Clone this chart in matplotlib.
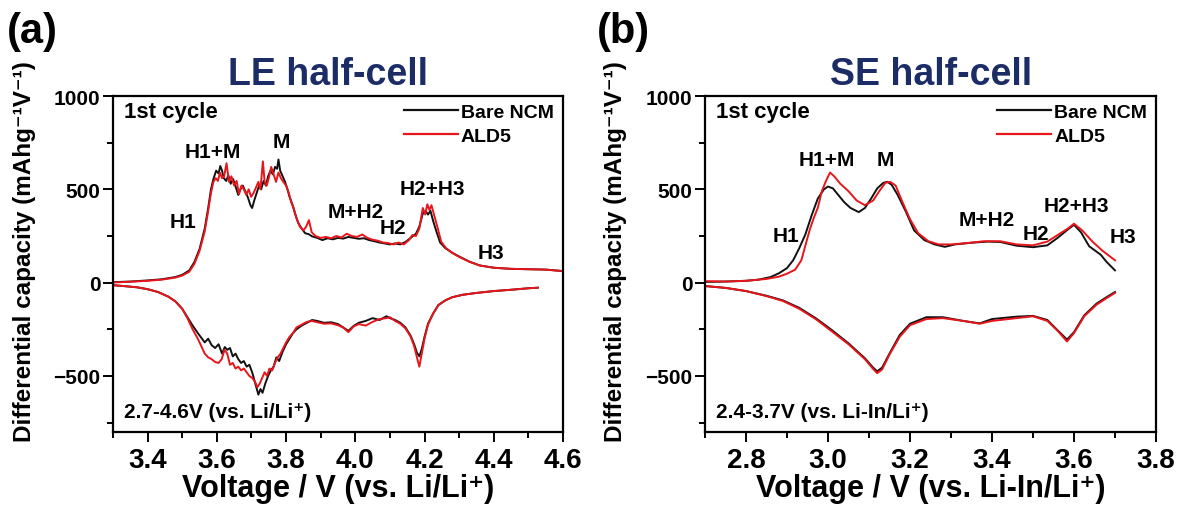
import matplotlib
matplotlib.use("Agg")
import matplotlib.pyplot as plt
from matplotlib.ticker import MultipleLocator

plt.rcParams["font.family"] = ["Liberation Sans", "DejaVu Sans"]
plt.rcParams["font.weight"] = "bold"

BLACK = "#111111"
RED = "#E8151B"
NAVY = "#1B2C66"

# ---- LE half-cell, 1st cycle (vs. Li/Li+) ----
le_chg_v_bare = [3.29, 3.35, 3.40, 3.44, 3.48, 3.50, 3.52, 3.535, 3.55, 3.565,
                 3.575, 3.583, 3.59, 3.598, 3.605, 3.61, 3.615, 3.62, 3.627, 3.633,
                 3.64, 3.647, 3.655, 3.662, 3.668, 3.675, 3.682, 3.69, 3.697, 3.702,
                 3.708, 3.715, 3.722, 3.728, 3.735, 3.742, 3.748, 3.755, 3.762, 3.768,
                 3.774, 3.778, 3.783, 3.79, 3.797, 3.804, 3.81, 3.818, 3.826, 3.835,
                 3.845, 3.855, 3.865, 3.875, 3.89, 3.905, 3.92, 3.935, 3.95, 3.965,
                 3.98, 3.995, 4.01, 4.025, 4.04, 4.055, 4.07, 4.085, 4.1, 4.115,
                 4.13, 4.145, 4.16, 4.175, 4.185, 4.195, 4.203, 4.21, 4.217, 4.225,
                 4.235, 4.245, 4.26, 4.28, 4.30, 4.33, 4.36, 4.40, 4.45, 4.50,
                 4.55, 4.60]
le_chg_bare = [2, 6, 12, 18, 30, 42, 65, 110, 180, 290,
               400, 500, 555, 600, 585, 625, 600, 560, 545, 575,
               530, 555, 510, 470, 500, 520, 490, 455, 415, 400,
               440, 480, 520, 500, 545, 520, 570, 600, 580, 620,
               610, 660, 600, 570, 540, 500, 460, 420, 370, 320,
               290, 265, 260, 248, 240, 228, 238, 232, 240, 236,
               245, 240, 235, 238, 228, 222, 215, 210, 205, 210,
               205, 218, 240, 262, 300, 370, 385, 365, 385, 330,
               270, 215, 185, 160, 140, 112, 92, 80, 74, 72,
               70, 62]

le_chg_v_ald = [3.29, 3.35, 3.40, 3.44, 3.48, 3.50, 3.52, 3.535, 3.55, 3.565,
                3.575, 3.583, 3.59, 3.597, 3.603, 3.609, 3.615, 3.621, 3.628, 3.635,
                3.642, 3.65, 3.657, 3.664, 3.671, 3.678, 3.685, 3.692, 3.699, 3.706,
                3.713, 3.72, 3.726, 3.733, 3.738, 3.744, 3.75, 3.757, 3.764, 3.771,
                3.778, 3.785, 3.792, 3.8, 3.808, 3.815, 3.822, 3.83, 3.84, 3.85,
                3.858, 3.866, 3.874, 3.885, 3.9, 3.915, 3.93, 3.945, 3.96, 3.975,
                3.99, 4.005, 4.02, 4.035, 4.05, 4.065, 4.08, 4.095, 4.11, 4.125,
                4.14, 4.155, 4.165, 4.175, 4.185, 4.195, 4.202, 4.208, 4.214, 4.22,
                4.228, 4.237, 4.248, 4.262, 4.28, 4.30, 4.33, 4.36, 4.40, 4.45,
                4.50, 4.55, 4.60]
le_chg_ald = [0, 5, 10, 16, 27, 38, 58, 100, 170, 275,
              385, 480, 540, 560, 545, 590, 560, 570, 640, 540,
              570, 520, 545, 475, 520, 500, 470, 500, 460, 480,
              510, 540, 500, 650, 540, 520, 560, 620, 580, 540,
              590, 560, 540, 520, 480, 430, 400, 345, 300, 280,
              300, 335, 270, 250, 240, 245, 238, 250, 242, 262,
              250, 245, 258, 240, 230, 225, 215, 212, 205, 215,
              205, 228, 255, 250, 290, 400, 365, 420, 390, 415,
              360, 300, 220, 185, 160, 138, 112, 92, 80, 74,
              72, 70, 62]

le_dis_v_bare = [3.29, 3.33, 3.37, 3.40, 3.43, 3.46, 3.48, 3.50, 3.515, 3.53,
                 3.545, 3.555, 3.565, 3.575, 3.585, 3.595, 3.605, 3.615, 3.623, 3.63,
                 3.638, 3.646, 3.654, 3.662, 3.67, 3.678, 3.686, 3.694, 3.702, 3.708,
                 3.714, 3.72, 3.726, 3.732, 3.74, 3.748, 3.756, 3.764, 3.772, 3.78,
                 3.79, 3.8, 3.81, 3.82, 3.83, 3.845, 3.86, 3.875, 3.89, 3.91,
                 3.93, 3.95, 3.965, 3.98, 3.995, 4.01, 4.03, 4.05, 4.07, 4.09,
                 4.1, 4.115, 4.13, 4.145, 4.16, 4.17, 4.178, 4.185, 4.192, 4.2,
                 4.21, 4.225, 4.24, 4.26, 4.28, 4.31, 4.35, 4.40, 4.45, 4.50,
                 4.527]
le_dis_bare = [-12, -18, -25, -35, -50, -75, -100, -140, -185, -230,
               -270, -295, -320, -300, -335, -350, -330, -380, -345, -360,
               -350, -395, -380, -410, -430, -420, -450, -440, -480, -520,
               -560, -600, -570, -590, -540, -500, -470, -450, -400, -420,
               -370, -330, -300, -270, -250, -230, -215, -200, -205, -215,
               -212, -222, -240, -258, -232, -215, -205, -190, -200, -180,
               -190, -200, -215, -240, -285, -330, -375, -395, -355, -290,
               -220, -165, -120, -95, -78, -65, -55, -45, -38, -30,
               -27]

le_dis_v_ald = [3.29, 3.33, 3.37, 3.40, 3.43, 3.46, 3.48, 3.50, 3.515, 3.53,
                3.545, 3.555, 3.565, 3.575, 3.585, 3.595, 3.605, 3.614, 3.622, 3.63,
                3.638, 3.646, 3.654, 3.662, 3.67, 3.678, 3.686, 3.694, 3.702, 3.71,
                3.717, 3.724, 3.731, 3.738, 3.745, 3.752, 3.76, 3.768, 3.776, 3.784,
                3.792, 3.8, 3.81, 3.82, 3.83, 3.845, 3.86, 3.875, 3.89, 3.91,
                3.93, 3.95, 3.965, 3.98, 3.995, 4.01, 4.03, 4.05, 4.07, 4.09,
                4.1, 4.115, 4.13, 4.145, 4.16, 4.17, 4.178, 4.185, 4.192, 4.2,
                4.21, 4.225, 4.24, 4.26, 4.28, 4.31, 4.35, 4.40, 4.45, 4.50,
                4.527]
le_dis_ald = [-12, -18, -25, -35, -50, -75, -100, -140, -190, -250,
              -300, -340, -380, -400, -410, -425, -430, -410, -360, -380,
              -440, -430, -460, -450, -470, -460, -480, -500, -510, -530,
              -560, -540, -510, -480, -500, -460, -470, -430, -400, -380,
              -350, -320, -290, -270, -240, -225, -210, -205, -212, -220,
              -218, -228, -240, -265, -235, -222, -230, -210, -195, -190,
              -185, -205, -220, -245, -290, -340, -400, -450, -380, -300,
              -225, -165, -120, -95, -78, -65, -55, -45, -38, -30,
              -27]

# ---- SE half-cell, 1st cycle (vs. Li-In/Li+) ----
se_chg_v_bare = [2.70, 2.75, 2.80, 2.83, 2.86, 2.88, 2.90, 2.915, 2.93, 2.945,
                 2.96, 2.975, 2.99, 3.0, 3.012, 3.025, 3.04, 3.055, 3.075, 3.09,
                 3.105, 3.12, 3.135, 3.145, 3.155, 3.17, 3.19, 3.21, 3.235, 3.26,
                 3.285, 3.31, 3.35, 3.39, 3.42, 3.46, 3.50, 3.535, 3.56, 3.585,
                 3.60, 3.617, 3.637, 3.665, 3.68, 3.70]
se_chg_bare = [4, 6, 10, 16, 30, 50, 78, 120, 185, 260,
               360, 450, 500, 515, 505, 470, 430, 400, 378, 400,
               450, 505, 535, 540, 525, 470, 380, 280, 228, 205,
               192, 205, 214, 220, 218, 198, 190, 200, 240, 285,
               310, 270, 195, 150, 110, 66]

se_chg_v_ald = [2.70, 2.75, 2.80, 2.85, 2.88, 2.90, 2.92, 2.935, 2.945, 2.955,
                2.965, 2.975, 2.985, 2.995, 3.005, 3.015, 3.03, 3.05, 3.07, 3.09,
                3.11, 3.125, 3.14, 3.152, 3.165, 3.18, 3.2, 3.22, 3.245, 3.27,
                3.3, 3.34, 3.38, 3.42, 3.46, 3.50, 3.535, 3.56, 3.585, 3.60,
                3.62, 3.645, 3.67, 3.70]
se_chg_ald = [8, 6, 10, 20, 32, 48, 70, 120, 200, 280,
              345, 400, 490, 545, 590, 570, 530, 490, 440, 415,
              440, 490, 535, 540, 520, 440, 340, 265, 222, 205,
              205, 212, 222, 222, 205, 200, 220, 255, 290, 316,
              280, 220, 170, 120]

se_dis_v = [2.70, 2.75, 2.80, 2.85, 2.89, 2.93, 2.97, 3.01, 3.05, 3.09,
            3.11, 3.12, 3.132, 3.15, 3.175, 3.2, 3.24, 3.28, 3.33, 3.37,
            3.40, 3.46, 3.50, 3.535, 3.56, 3.583, 3.60, 3.625, 3.655, 3.68,
            3.70]
se_dis_bare = [-18, -28, -45, -70, -95, -135, -190, -255, -325, -405,
               -455, -475, -455, -380, -280, -220, -185, -185, -205, -218,
               -195, -182, -178, -200, -255, -305, -265, -175, -112, -77,
               -50]
se_dis_ald = [-18, -28, -45, -72, -98, -140, -195, -262, -330, -410,
              -462, -485, -465, -385, -290, -228, -195, -190, -205, -220,
              -205, -190, -180, -205, -258, -315, -270, -180, -118, -82,
              -55]

# phase labels: (text, voltage, dQ/dV)
le_phases = [("H1+M", 3.588, 705), ("M", 3.785, 754), ("H1", 3.502, 330),
             ("M+H2", 4.001, 379), ("H2", 4.108, 298), ("H2+H3", 4.223, 502),
             ("H3", 4.393, 159)]
se_phases = [("H1+M", 2.998, 662), ("M", 3.140, 662), ("H1", 2.898, 255),
             ("M+H2", 3.387, 341), ("H2", 3.507, 261), ("H2+H3", 3.605, 411),
             ("H3", 3.720, 245)]

fig = plt.figure(figsize=(11.79, 5.10), dpi=100)
ax_a = fig.add_axes([113 / 1179, 77 / 510, 450 / 1179, 336 / 510])
ax_b = fig.add_axes([705 / 1179, 77 / 510, 451 / 1179, 336 / 510])


def style_axes(ax, xlim, xlabel, window):
    ax.set_xlim(*xlim)
    ax.set_ylim(-800, 1000)
    ax.xaxis.set_major_locator(MultipleLocator(0.2))
    ax.xaxis.set_minor_locator(MultipleLocator(0.1))
    ax.yaxis.set_major_locator(MultipleLocator(500))
    ax.yaxis.set_minor_locator(MultipleLocator(250))
    ax.tick_params(which="both", direction="out", width=1.4, top=False, right=False)
    ax.tick_params(which="major", length=7)
    ax.tick_params(which="minor", length=4)
    ax.tick_params(axis="x", labelsize=20, pad=4)
    ax.tick_params(axis="y", labelsize=15, pad=2)
    for lbl in ax.get_xticklabels() + ax.get_yticklabels():
        lbl.set_fontweight("bold")
    for sp in ax.spines.values():
        sp.set_linewidth(1.6)
    ax.set_xlabel(xlabel, fontsize=22, fontweight="bold", labelpad=0)
    ax.set_ylabel("Differential capacity (mAhg⁻¹V⁻¹)",
                  fontsize=17.5, fontweight="bold")
    ax.yaxis.set_label_coords(-0.172, 0.54)
    ax.text(0.024, 0.955, "1st cycle", transform=ax.transAxes,
            fontsize=16, fontweight="bold", va="center", ha="left")
    ax.text(0.024, 0.062, window, transform=ax.transAxes,
            fontsize=15, fontweight="bold", va="center", ha="left")
    leg = ax.legend(loc="upper right", bbox_to_anchor=(1.01, 1.02), frameon=False,
                    prop={"size": 14, "weight": "bold"}, handlelength=2.8,
                    handletextpad=0.15, labelspacing=0.35, borderaxespad=0.3)
    for line in leg.get_lines():
        line.set_linewidth(1.6)


for ax, data, phases in [
    (ax_a, [(le_chg_v_bare, le_chg_bare, le_chg_v_ald, le_chg_ald),
            (le_dis_v_bare, le_dis_bare, le_dis_v_ald, le_dis_ald)], le_phases),
    (ax_b, [(se_chg_v_bare, se_chg_bare, se_chg_v_ald, se_chg_ald),
            (se_dis_v, se_dis_bare, se_dis_v, se_dis_ald)], se_phases),
]:
    for i, (vb, qb, va, qa) in enumerate(data):
        ax.plot(vb, qb, color=BLACK, lw=1.4, label="Bare NCM" if i == 0 else None)
    for i, (vb, qb, va, qa) in enumerate(data):
        ax.plot(va, qa, color=RED, lw=1.4, label="ALD5" if i == 0 else None)
    for txt, x, y in phases:
        ax.text(x, y, txt, fontsize=15, fontweight="bold", ha="center", va="center")

style_axes(ax_a, (3.3, 4.6), "Voltage / V (vs. Li/Li⁺)", "2.7-4.6V (vs. Li/Li⁺)")
style_axes(ax_b, (2.7, 3.8), "Voltage / V (vs. Li-In/Li⁺)", "2.4-3.7V (vs. Li-In/Li⁺)")

fig.text(328 / 1179, 1 - 75 / 510, "LE half-cell", color=NAVY, fontsize=27,
         fontweight="bold", ha="center", va="center")
fig.text(931 / 1179, 1 - 75 / 510, "SE half-cell", color=NAVY, fontsize=27,
         fontweight="bold", ha="center", va="center")
fig.text(7 / 1179, 1 - 32 / 510, "(a)", fontsize=30, fontweight="bold",
         ha="left", va="center")
fig.text(597 / 1179, 1 - 32 / 510, "(b)", fontsize=30, fontweight="bold",
         ha="left", va="center")

fig.savefig("out.png", dpi=100)
